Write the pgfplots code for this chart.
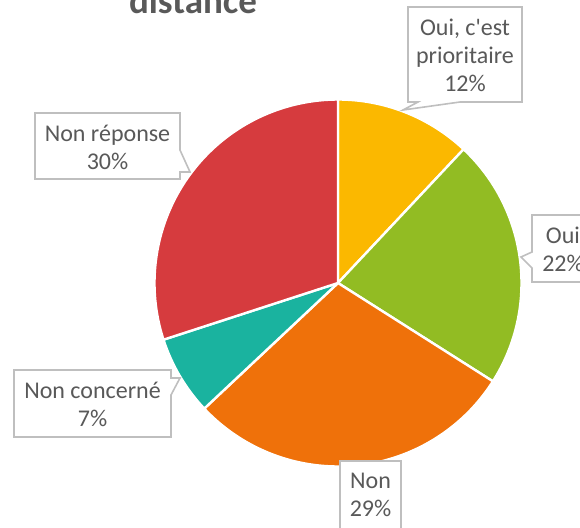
\documentclass[border=0pt]{standalone}
\usepackage{pgfplots}
\pgfplotsset{compat=1.18}
\usepackage{fontspec}
\setmainfont{Carlito}[Ligatures=TeXOff]
\definecolor{cA}{HTML}{FBB800}
\definecolor{cB}{HTML}{92BC23}
\definecolor{cC}{HTML}{EF710A}
\definecolor{cD}{HTML}{1AB39F}
\definecolor{cE}{HTML}{D63B3E}
\definecolor{txt}{HTML}{595959}
\definecolor{bord}{HTML}{BFBFBF}
% slice: cumulative start (%), value (%), colour
\newcommand{\slice}[3]{%
  \fill[#3, draw=white, line width=1.2pt, line join=round]
    (axis cs:338,244) -- ++({90-3.6*(#1)}:91.75pt) arc[start angle={90-3.6*(#1)}, end angle={90-3.6*(#1+#2)}, radius=91.75pt] -- cycle;}
\tikzset{lbl/.style={font=\fontsize{12}{14}\selectfont, text=txt, align=center, inner sep=0pt},
  call/.style={draw=bord, line width=0.8pt, fill=white, line join=miter}}
\begin{document}
\begin{tikzpicture}
\begin{axis}[hide axis, x=0.5pt, y=0.5pt, xmin=0, xmax=580, ymin=0, ymax=527, clip=true]
% data: Oui c'est prioritaire 12, Oui 22, Non 29, Non concerne 7, Non reponse 30
\slice{0}{12}{cA}
\slice{12}{22}{cB}
\slice{34}{29}{cC}
\slice{63}{7}{cD}
\slice{70}{30}{cE}
% title
\node[font=\fontsize{18.5}{22}\selectfont\bfseries, text=txt, anchor=base] at (axis cs:193,514) {distance};
% callouts (pixel coords, y flipped)
\draw[call] (axis cs:408,520) -- (axis cs:522,520) -- (axis cs:522,425) -- (axis cs:460,425) -- (axis cs:403,417) -- (axis cs:418,425) -- (axis cs:408,425) -- cycle;
\node[lbl] at (axis cs:465,472) {Oui, c'est\\prioritaire\\12\%};
\draw[call] (axis cs:532,312) -- (axis cs:595,312) -- (axis cs:595,245) -- (axis cs:532,245) -- (axis cs:532,259) -- (axis cs:521,270) -- (axis cs:532,275) -- cycle;
\node[lbl] at (axis cs:563,278) {Oui\\22\%};
\draw[call] (axis cs:340,66) -- (axis cs:401,66) -- (axis cs:401,-5) -- (axis cs:340,-5) -- cycle;
\node[lbl] at (axis cs:370.5,32) {Non\\29\%};
\draw[call] (axis cs:14,157) -- (axis cs:171,157) -- (axis cs:171,149) -- (axis cs:180,149) -- (axis cs:171,132) -- (axis cs:171,90) -- (axis cs:14,90) -- cycle;
\node[lbl] at (axis cs:92.5,123) {Non concerné\\7\%};
\draw[call] (axis cs:35,414) -- (axis cs:180,414) -- (axis cs:180,377) -- (axis cs:190,355) -- (axis cs:180,355) -- (axis cs:180,348) -- (axis cs:35,348) -- cycle;
\node[lbl] at (axis cs:107.5,380) {Non réponse\\30\%};
\end{axis}
\pgfresetboundingbox
\path[use as bounding box] (0,0) rectangle (290pt,263.5pt);
\end{tikzpicture}
\end{document}
